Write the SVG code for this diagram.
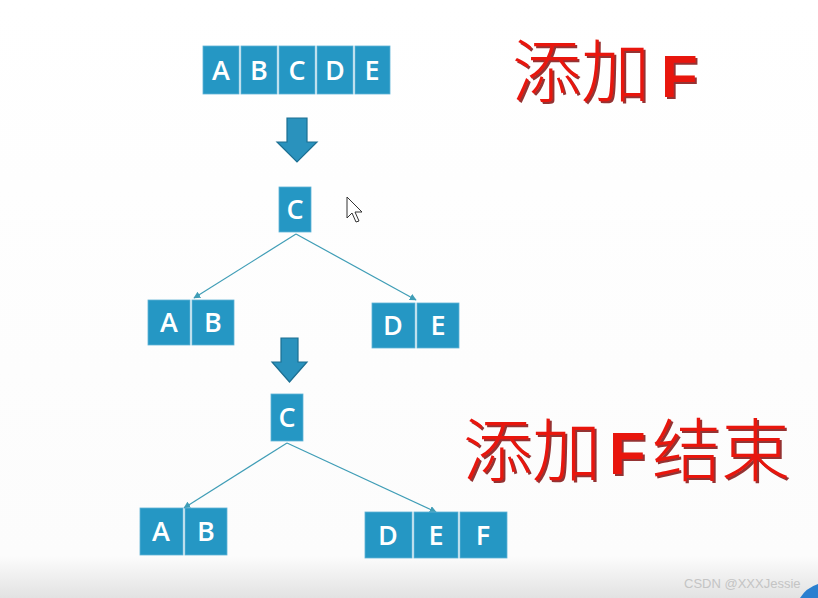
<svg xmlns="http://www.w3.org/2000/svg" width="818" height="598" viewBox="0 0 818 598">
<style>
.box{fill:#2597c4;stroke:#5fb3d6;stroke-width:0.8}
.lt{font-family:"Open Sans","Liberation Sans",sans-serif;font-weight:600;font-size:27px;fill:#ffffff;text-anchor:middle}
.blk{fill:#2a92bd;stroke:#1c6f92;stroke-width:1.2}
.edge{stroke:#3f9db6;stroke-width:1.2;fill:none;marker-end:url(#ah)}
.red{font-family:"Noto Sans CJK SC","Noto Sans CJK JP",sans-serif;font-weight:300;font-size:69px;fill:#e8140c}
.redF{font-family:"Liberation Sans",Arial,sans-serif;font-weight:bold;font-size:60px;fill:#e8140c}
</style>
<defs>
<marker id="ah" viewBox="0 0 10 10" refX="9" refY="5" markerWidth="7" markerHeight="7" orient="auto" markerUnits="userSpaceOnUse">
<path d="M0,0 L10,5 L0,10 Z" fill="#3f9db6"/>
</marker>
<linearGradient id="bg" x1="0" y1="0" x2="0" y2="1">
<stop offset="0" stop-color="#ffffff"/>
<stop offset="0.93" stop-color="#fcfcfc"/>
<stop offset="1" stop-color="#e2e2e2"/>
</linearGradient>
<filter id="sh" x="-10%" y="-10%" width="130%" height="130%">
<feDropShadow dx="2" dy="2" stdDeviation="0.6" flood-color="#7a0000" flood-opacity="0.8"/>
</filter>
</defs>
<rect x="0" y="0" width="818" height="598" fill="url(#bg)"/>
<path d="M800,598 Q806,588 818,584 L818,598 Z" fill="#2a7fd0"/>

<g id="connectors">
<line class="edge" x1="296" y1="234" x2="194" y2="298"/>
<line class="edge" x1="296" y1="234" x2="416" y2="300"/>
<line class="edge" x1="287" y1="443" x2="184" y2="508"/>
<line class="edge" x1="287" y1="443" x2="436" y2="512"/>
</g>

<g id="arrow1"><path class="blk" d="M287,118 L307,118 L307,142 L317,142 L297,162 L277,142 L287,142 Z"/></g>
<g id="arrow2"><path class="blk" d="M281,338 L298,338 L298,362 L307,362 L289.5,382 L272,362 L281,362 Z"/></g>

<g id="node-ABCDE">
<rect class="box" x="203" y="46" width="36" height="48"/>
<rect class="box" x="241" y="46" width="36" height="48"/>
<rect class="box" x="279" y="46" width="36" height="48"/>
<rect class="box" x="317" y="46" width="36" height="48"/>
<rect class="box" x="355" y="46" width="35" height="48"/>
<text class="lt" x="221" y="80">A</text>
<text class="lt" x="259" y="80">B</text>
<text class="lt" x="297" y="80">C</text>
<text class="lt" x="335" y="80">D</text>
<text class="lt" x="372" y="80">E</text>
</g>

<g id="node-C1">
<rect class="box" x="279" y="187" width="32" height="45"/>
<text class="lt" x="295" y="219">C</text>
</g>

<g id="node-AB1">
<rect class="box" x="148" y="300" width="42" height="45"/>
<rect class="box" x="192" y="300" width="42" height="45"/>
<text class="lt" x="169" y="332">A</text>
<text class="lt" x="213" y="332">B</text>
</g>

<g id="node-DE1">
<rect class="box" x="372" y="303" width="43" height="45"/>
<rect class="box" x="417" y="303" width="42" height="45"/>
<text class="lt" x="393" y="335">D</text>
<text class="lt" x="438" y="335">E</text>
</g>

<g id="node-C2">
<rect class="box" x="271" y="394" width="32" height="47"/>
<text class="lt" x="287" y="427">C</text>
</g>

<g id="node-AB2">
<rect class="box" x="140" y="508" width="43" height="47"/>
<rect class="box" x="185" y="508" width="42" height="47"/>
<text class="lt" x="161" y="541">A</text>
<text class="lt" x="206" y="541">B</text>
</g>

<g id="node-DEF">
<rect class="box" x="365" y="512" width="47" height="46"/>
<rect class="box" x="414" y="512" width="44" height="46"/>
<rect class="box" x="460" y="512" width="47" height="46"/>
<text class="lt" x="388" y="545">D</text>
<text class="lt" x="436" y="545">E</text>
<text class="lt" x="483" y="545">F</text>
</g>

<g id="label-add" filter="url(#sh)">
<text class="red" x="512" y="97">添加</text>
<text class="redF" x="661" y="97">F</text>
</g>

<g id="label-done" filter="url(#sh)">
<text class="red" x="463" y="476">添加</text>
<text class="redF" x="609" y="474">F</text>
<text class="red" x="652" y="476">结束</text>
</g>

<path d="M347,197 L347,218 L352,213 L356,222 L359,221 L355,212 L362,212 Z" fill="#ffffff" stroke="#333" stroke-width="1"/>

<text x="684" y="588" font-family="'Liberation Sans',Arial,sans-serif" font-size="13" fill="#c4c4c4">CSDN @XXXJessie</text>
</svg>
